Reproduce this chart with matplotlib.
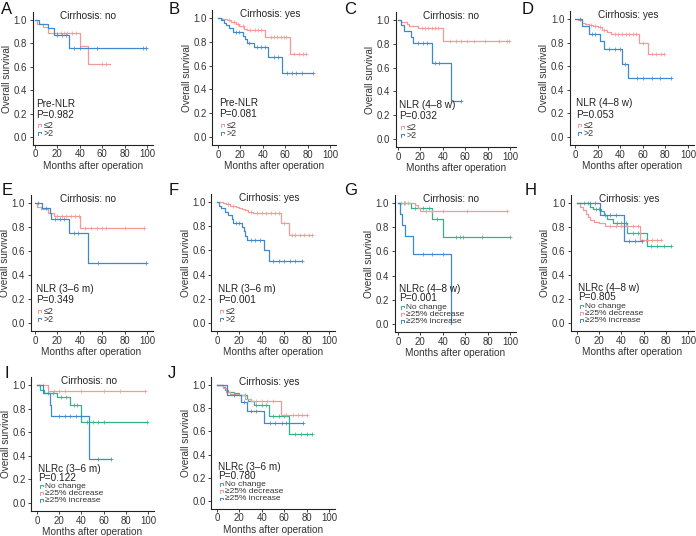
import matplotlib
matplotlib.use('Agg')
import matplotlib.pyplot as plt
import numpy as np

plt.rcParams['font.family'] = ['Liberation Sans', 'DejaVu Sans']

RED = '#F29A98'
BLUE = '#3E88D0'
GREEN = '#30B487'

# ---------------- data (time, survival, censor times) ----------------
# A: Pre-NLR, cirrhosis no
a_lo_t = [0, 2, 7, 12, 40, 47, 67]
a_lo_s = [1.0, 0.97, 0.94, 0.89, 0.78, 0.62, 0.62]
a_lo_c = [20, 23, 26, 29, 33, 37, 60, 63]
a_hi_t = [0, 4, 12, 17, 30, 99]
a_hi_s = [1.0, 0.97, 0.93, 0.87, 0.76, 0.76]
a_hi_c = [20, 24, 28, 35, 40, 55, 96, 99]
# B: Pre-NLR, cirrhosis yes
b_lo_t = [0, 4, 8, 12, 16, 19, 23, 26, 42, 64, 79]
b_lo_s = [1.0, 0.99, 0.98, 0.97, 0.95, 0.93, 0.91, 0.90, 0.84, 0.70, 0.70]
b_lo_c = [10, 14, 18, 22, 29, 33, 36, 38, 47, 50, 53, 56, 59, 61, 68, 72, 76, 79]
b_hi_t = [0, 3, 5, 7, 10, 13, 22, 24, 26, 32, 45, 57, 85]
b_hi_s = [1.0, 0.98, 0.96, 0.94, 0.92, 0.88, 0.85, 0.82, 0.79, 0.76, 0.67, 0.54, 0.54]
b_hi_c = [16, 19, 28, 35, 38, 42, 50, 54, 62, 66, 70, 75, 85]
# C: NLR (4-8 w), cirrhosis no
c_lo_t = [0, 3, 8, 10, 18, 40, 99]
c_lo_s = [1.0, 0.98, 0.97, 0.95, 0.93, 0.82, 0.82]
c_lo_c = [21, 24, 27, 30, 33, 36, 46, 52, 56, 62, 68, 78, 90, 97, 99]
c_hi_t = [0, 3, 5, 12, 13, 30, 47, 56]
c_hi_s = [1.0, 0.96, 0.91, 0.86, 0.81, 0.64, 0.32, 0.32]
c_hi_c = [18, 22, 26, 33, 37, 56]
# D: NLR (4-8 w), cirrhosis yes
d_lo_t = [0, 3, 6, 9, 12, 16, 20, 24, 28, 32, 57, 65, 79]
d_lo_s = [1.0, 0.99, 0.97, 0.96, 0.95, 0.94, 0.93, 0.91, 0.89, 0.87, 0.80, 0.70, 0.70]
d_lo_c = [14, 18, 22, 26, 35, 38, 42, 45, 48, 51, 54, 60, 68, 72, 76, 79]
d_hi_t = [0, 6, 12, 22, 26, 42, 47, 85]
d_hi_s = [1.0, 0.94, 0.87, 0.81, 0.75, 0.62, 0.50, 0.50]
d_hi_c = [4, 15, 18, 30, 35, 40, 44, 55, 60, 68, 75, 85]
# E: NLR (3-6 m), cirrhosis no
e_lo_t = [0, 2, 5, 12, 17, 40, 97]
e_lo_s = [1.0, 0.97, 0.95, 0.92, 0.89, 0.79, 0.79]
e_lo_c = [20, 24, 28, 32, 36, 39, 45, 50, 55, 60, 63, 80, 97]
e_hi_t = [0, 6, 13, 14, 30, 47, 99]
e_hi_s = [1.0, 0.96, 0.92, 0.87, 0.75, 0.50, 0.50]
e_hi_c = [3, 10, 18, 22, 26, 35, 38, 56, 99]
# F: NLR (3-6 m), cirrhosis yes
f_lo_t = [0, 5, 8, 12, 17, 20, 22, 25, 28, 32, 57, 64, 85]
f_lo_s = [1.0, 0.99, 0.98, 0.97, 0.96, 0.95, 0.94, 0.93, 0.92, 0.91, 0.83, 0.73, 0.73]
f_lo_c = [10, 14, 30, 36, 40, 44, 48, 52, 55, 60, 67, 70, 74, 78, 82, 85]
f_hi_t = [0, 2, 4, 7, 10, 13, 14, 22, 24, 25, 27, 42, 46, 76]
f_hi_s = [1.0, 0.97, 0.95, 0.92, 0.89, 0.86, 0.83, 0.79, 0.76, 0.72, 0.69, 0.60, 0.51, 0.51]
f_hi_c = [17, 20, 30, 34, 38, 50, 55, 60, 65, 70, 76]
# G: NLRc (4-8 w), cirrhosis no
g_nc_t = [0, 12, 30, 40, 100]
g_nc_s = [1.0, 0.96, 0.87, 0.72, 0.72]
g_nc_c = [5, 15, 22, 28, 35, 52, 55, 58, 75, 100]
g_dec_t = [0, 15, 18, 20, 97]
g_dec_s = [1.0, 0.98, 0.96, 0.93, 0.93]
g_dec_c = [3, 6, 9, 25, 30, 40, 62, 97]
g_inc_t = [0, 2, 4, 6, 13, 47]
g_inc_s = [1.0, 0.91, 0.82, 0.73, 0.58, 0.0]
g_inc_c = [22, 30, 40]
# H: NLRc (4-8 w), cirrhosis yes
h_nc_t = [0, 12, 14, 22, 24, 27, 32, 45, 63, 85]
h_nc_s = [1.0, 0.97, 0.95, 0.93, 0.90, 0.87, 0.83, 0.75, 0.64, 0.64]
h_nc_c = [6, 10, 17, 20, 36, 40, 44, 50, 55, 67, 72, 78, 85]
h_dec_t = [0, 3, 5, 8, 10, 12, 15, 20, 25, 57, 76]
h_dec_s = [1.0, 0.97, 0.94, 0.91, 0.88, 0.86, 0.84, 0.83, 0.81, 0.69, 0.69]
h_dec_c = [30, 35, 40, 45, 50, 55, 62, 68, 72, 76]
h_inc_t = [0, 21, 42, 59]
h_inc_s = [1.0, 0.90, 0.68, 0.68]
h_inc_c = [12, 16, 25, 30, 35, 47, 52, 59]
# I: NLRc (3-6 m), cirrhosis no
i_nc_t = [0, 3, 6, 18, 30, 40, 99]
i_nc_s = [1.0, 0.96, 0.93, 0.90, 0.83, 0.69, 0.69]
i_nc_c = [10, 14, 22, 26, 33, 36, 45, 50, 55, 60, 99]
i_dec_t = [0, 10, 97]
i_dec_s = [1.0, 0.95, 0.95]
i_dec_c = [5, 15, 20, 25, 40, 60, 75, 97]
i_inc_t = [0, 5, 12, 13, 47, 67]
i_inc_s = [1.0, 0.93, 0.83, 0.74, 0.37, 0.37]
i_inc_c = [20, 25, 30, 35, 40, 55, 67]
# J: NLRc (3-6 m), cirrhosis yes
j_nc_t = [0, 5, 7, 10, 15, 20, 27, 28, 33, 46, 64, 85]
j_nc_s = [1.0, 0.98, 0.96, 0.94, 0.93, 0.91, 0.88, 0.86, 0.83, 0.73, 0.58, 0.58]
j_nc_c = [25, 35, 40, 44, 50, 55, 60, 70, 75, 80, 85]
j_dec_t = [0, 5, 8, 12, 20, 25, 30, 57, 80]
j_dec_s = [1.0, 0.97, 0.94, 0.92, 0.91, 0.88, 0.86, 0.74, 0.74]
j_dec_c = [15, 35, 40, 45, 50, 62, 68, 72, 76, 80]
j_inc_t = [0, 9, 21, 27, 42, 77]
j_inc_s = [1.0, 0.91, 0.85, 0.78, 0.67, 0.67]
j_inc_c = [15, 24, 30, 35, 47, 52, 58, 62, 77]

letters = ['A', 'B', 'C', 'D', 'E', 'F', 'G', 'H', 'I', 'J']
cirrhosis = ['no', 'yes', 'no', 'yes', 'no', 'yes', 'no', 'yes', 'no', 'yes']
var_names = ['Pre-NLR', 'Pre-NLR', 'NLR (4–8 w)', 'NLR (4–8 w)', 'NLR (3–6 m)',
             'NLR (3–6 m)', 'NLRc (4–8 w)', 'NLRc (4–8 w)', 'NLRc (3–6 m)', 'NLRc (3–6 m)']
p_values = ['0.982', '0.081', '0.032', '0.053', '0.349', '0.001', '0.001', '0.805', '0.122', '0.780']
labels2 = ['≤2', '>2']
labels3 = ['No change', '≥25% decrease', '≥25% increase']
x_ticks = [0, 20, 40, 60, 80, 100]
y_ticks = [0.0, 0.2, 0.4, 0.6, 0.8, 1.0]

curves = {
    'A': [(a_lo_t, a_lo_s, a_lo_c), (a_hi_t, a_hi_s, a_hi_c)],
    'B': [(b_lo_t, b_lo_s, b_lo_c), (b_hi_t, b_hi_s, b_hi_c)],
    'C': [(c_lo_t, c_lo_s, c_lo_c), (c_hi_t, c_hi_s, c_hi_c)],
    'D': [(d_lo_t, d_lo_s, d_lo_c), (d_hi_t, d_hi_s, d_hi_c)],
    'E': [(e_lo_t, e_lo_s, e_lo_c), (e_hi_t, e_hi_s, e_hi_c)],
    'F': [(f_lo_t, f_lo_s, f_lo_c), (f_hi_t, f_hi_s, f_hi_c)],
    'G': [(g_nc_t, g_nc_s, g_nc_c), (g_dec_t, g_dec_s, g_dec_c), (g_inc_t, g_inc_s, g_inc_c)],
    'H': [(h_nc_t, h_nc_s, h_nc_c), (h_dec_t, h_dec_s, h_dec_c), (h_inc_t, h_inc_s, h_inc_c)],
    'I': [(i_nc_t, i_nc_s, i_nc_c), (i_dec_t, i_dec_s, i_dec_c), (i_inc_t, i_inc_s, i_inc_c)],
    'J': [(j_nc_t, j_nc_s, j_nc_c), (j_dec_t, j_dec_s, j_dec_c), (j_inc_t, j_inc_s, j_inc_c)],
}

# ---------------- layout (pixels: x of 0, x of 100, y of 1.0, y of 0.0, left x-limit) ----------------
W, H = 696, 536
panel_px = {
    'A': (35, 147, 20, 137, -2), 'B': (218, 330, 18, 137, -5), 'C': (398, 510, 20, 139, -2),
    'D': (575, 688, 19, 137, -4.5), 'E': (35, 147, 203, 323, -4), 'F': (217, 329, 202, 323, -5),
    'G': (398, 510, 203, 324, -3), 'H': (577, 688, 203, 323, -5.5), 'I': (37, 148, 385, 503, -5),
    'J': (217, 329, 385, 501, -5),
}
letter_px = {
    'A': (1, 9), 'B': (169, 9), 'C': (344, 9), 'D': (522, 9), 'E': (2, 190),
    'F': (169, 190), 'G': (344, 190), 'H': (525, 190), 'I': (5, 373), 'J': (168, 373),
}

fig = plt.figure(figsize=(W / 100, H / 100), dpi=100)
XR = 105
YB, YT = -0.065, 1.065

for k, L in enumerate(letters):
    x0, x100, y1, y0, XL = panel_px[L]
    sx = (x100 - x0) / 100.0
    sy = (y0 - y1)
    left = x0 + XL * sx
    right = x0 + XR * sx
    top = y0 - YT * sy
    bottom = y0 - YB * sy
    ax = fig.add_axes([left / W, 1 - bottom / H, (right - left) / W, (bottom - top) / H])
    ax.set_xlim(XL, XR)
    ax.set_ylim(YB, YT)
    for sp in ['top', 'right']:
        ax.spines[sp].set_visible(False)
    for sp in ['left', 'bottom']:
        ax.spines[sp].set_linewidth(0.8)
        ax.spines[sp].set_color('#222222')
    ax.set_xticks(x_ticks)
    ax.set_yticks(y_ticks)
    ax.set_xticklabels([str(v) for v in x_ticks])
    ax.set_yticklabels(['%.1f' % v for v in y_ticks])
    ax.tick_params(labelsize=6.9, length=2.5, width=0.6, pad=1.6, colors='#222222',
                   labelcolor='#333333')
    ax.tick_params(axis='x', pad=1.0)
    ax.set_xlabel('Months after operation', fontsize=7.2, color='#333333', labelpad=1.0)
    ax.set_ylabel('Overall survival', fontsize=7.2, color='#333333', labelpad=1.0)

    groups = curves[L]
    if len(groups) == 2:
        cols = [RED, BLUE]
        labs = labels2
    else:
        cols = [GREEN, RED, BLUE]
        labs = labels3
    for (t, s, c), col in zip(groups, cols):
        ax.step(t, s, where='post', color=col, lw=0.9, zorder=3)
        t_arr = np.asarray(t)
        s_arr = np.asarray(s)
        idx = np.searchsorted(t_arr, np.asarray(c), side='right') - 1
        ax.plot(c, s_arr[idx], ls='none', marker='+', ms=2.8, mew=0.5, color=col, zorder=3)

    ax.text(47, 1.03, 'Cirrhosis: ' + cirrhosis[k], fontsize=7.2, ha='center', va='center',
            color='#222222')

    # legend block
    if len(groups) == 2:
        ty, py, ey, dy, efs = 0.285, 0.19, 0.095, 0.065, 6.4
    else:
        ty, py, ey, dy, efs = 0.29, 0.215, 0.14, 0.061, 6.0
    ax.text(1, ty, var_names[k], fontsize=7.2, ha='left', va='center', color='#222222')
    ax.text(1, py, 'P=' + p_values[k], fontsize=7.2, ha='left', va='center', color='#222222')
    for j, (lab, col) in enumerate(zip(labs, cols)):
        yy = ey - j * dy
        gx = [2.5, 2.5, 5.0, 5.0]
        gy = [yy - 0.012, yy + 0.012, yy + 0.012, yy - 0.0]
        ax.plot(gx, gy, color=col, lw=0.7)
        ax.text(7.5, yy, lab, fontsize=efs, ha='left', va='center', color='#333333')

for L in letters:
    px, py = letter_px[L]
    fig.text(px / W, 1 - py / H, L, fontsize=12, ha='left', va='center', color='#111111')

fig.savefig('out.png', dpi=100)
